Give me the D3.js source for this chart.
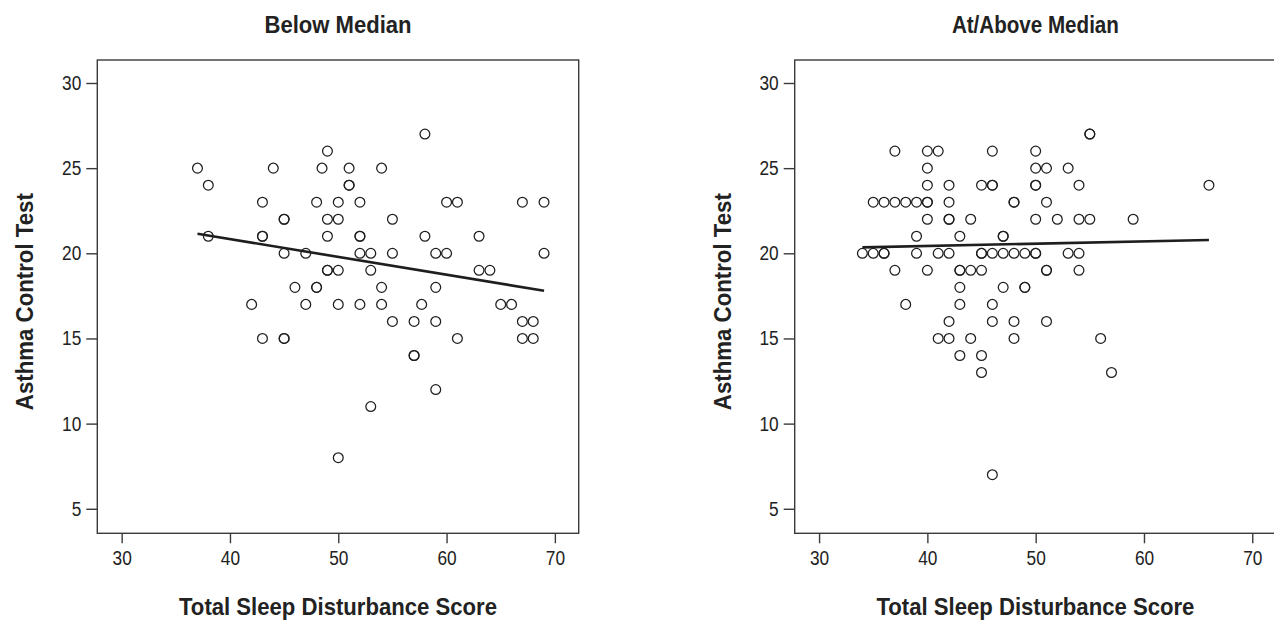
<!DOCTYPE html>
<html>
<head>
<meta charset="utf-8">
<script src="https://cdn.jsdelivr.net/npm/d3@7/dist/d3.min.js"></script>
<style>
  html, body { margin: 0; padding: 0; background: #fff; }
  svg { display: block; }
  text { font-family: "Liberation Sans Narrow", "Arial Narrow", "Liberation Sans", Arial, sans-serif; fill: #222; }
</style>
</head>
<body>
<svg id="chart" width="1274" height="621"></svg>
<script>
// ---------- data ----------
const panelTitles = ["Below Median", "At/Above Median"];
const xTitle = "Total Sleep Disturbance Score";
const yTitle = "Asthma Control Test";
const xTicks = [30, 40, 50, 60, 70];
const yTicks = [5, 10, 15, 20, 25, 30];

// Below median group
const leftScore = [
  58,
  49,
  37, 44, 48.5, 51, 54,
  38, 51, 51,
  43, 48, 50, 52, 60, 61, 67, 69,
  45, 45, 49, 50, 55,
  38, 43, 43, 49, 52, 52, 58, 63,
  45, 47, 52, 53, 55, 59, 60, 69,
  49, 49, 50, 53, 63, 64,
  46, 48, 48, 54, 59,
  42, 47, 50, 52, 54, 57.7, 65, 66,
  55, 57, 59, 67, 68,
  43, 45, 45, 61, 67, 68,
  57, 57,
  59,
  53,
  50
];
const leftACT = [
  27,
  26,
  25, 25, 25, 25, 25,
  24, 24, 24,
  23, 23, 23, 23, 23, 23, 23, 23,
  22, 22, 22, 22, 22,
  21, 21, 21, 21, 21, 21, 21, 21,
  20, 20, 20, 20, 20, 20, 20, 20,
  19, 19, 19, 19, 19, 19,
  18, 18, 18, 18, 18,
  17, 17, 17, 17, 17, 17, 17, 17,
  16, 16, 16, 16, 16,
  15, 15, 15, 15, 15, 15,
  14, 14,
  12,
  11,
  8
];
const leftFitScore = [37, 69];
const leftFitACT = [21.15, 17.8];

// At/above median group
const rightScore = [
  55, 55,
  37, 40, 41, 46, 50,
  40, 50, 51, 53,
  40, 42, 45, 46, 46, 50, 50, 54, 66,
  35, 36, 37, 38, 39, 40, 40, 42, 48, 48, 51,
  40, 42, 42, 44, 50, 52, 54, 55, 59,
  39, 43, 47, 47,
  34, 35, 36, 36, 39, 41, 42, 45, 45, 46, 47, 48, 49, 50, 50, 53, 54,
  37, 40, 43, 43, 44, 45, 51, 51, 54,
  43, 47, 49, 49,
  38, 43, 46,
  42, 46, 48, 51,
  41, 42, 44, 48, 56,
  43, 45,
  45, 57,
  46
];
const rightACT = [
  27, 27,
  26, 26, 26, 26, 26,
  25, 25, 25, 25,
  24, 24, 24, 24, 24, 24, 24, 24, 24,
  23, 23, 23, 23, 23, 23, 23, 23, 23, 23, 23,
  22, 22, 22, 22, 22, 22, 22, 22, 22,
  21, 21, 21, 21,
  20, 20, 20, 20, 20, 20, 20, 20, 20, 20, 20, 20, 20, 20, 20, 20, 20,
  19, 19, 19, 19, 19, 19, 19, 19, 19,
  18, 18, 18, 18,
  17, 17, 17,
  16, 16, 16, 16,
  15, 15, 15, 15, 15,
  14, 14,
  13, 13,
  7
];
const rightFitScore = [34, 66];
const rightFitACT = [20.35, 20.78];

// ---------- drawing ----------
const svg = d3.select("#chart");
const xDomain = [27.75, 72.2];
const yDomain = [3.56, 31.35];
const plotTop = 60, plotBottom = 533.3;
const frameColor = "#3a3a3a";

function fitText(sel, perChar) {
  sel.each(function () {
    const t = d3.select(this);
    const n = t.text().length;
    t.attr("textLength", perChar * n).attr("lengthAdjust", "spacingAndGlyphs");
  });
}

function panel(left, right, title, xs, ys, fx, fy) {
  const x = d3.scaleLinear().domain(xDomain).range([left, right]);
  const y = d3.scaleLinear().domain(yDomain).range([plotBottom, plotTop]);
  const g = svg.append("g");
  const cx = (left + right) / 2;

  // frame
  g.append("rect")
    .attr("x", left).attr("y", plotTop)
    .attr("width", right - left).attr("height", plotBottom - plotTop)
    .attr("fill", "none").attr("stroke", frameColor).attr("stroke-width", 1.4);

  // axes
  const xa = g.append("g").attr("transform", `translate(0,${plotBottom})`)
    .call(d3.axisBottom(x).tickValues(xTicks).tickSize(10).tickPadding(4).tickSizeOuter(0));
  const ya = g.append("g").attr("transform", `translate(${left},0)`)
    .call(d3.axisLeft(y).tickValues(yTicks).tickSize(11).tickPadding(5).tickSizeOuter(0));
  [xa, ya].forEach(a => {
    a.select(".domain").remove();
    a.selectAll("line").attr("stroke", frameColor).attr("stroke-width", 1.4);
    a.selectAll("text").attr("font-size", 20).attr("fill", "#222")
      .style("font-family", '"Liberation Sans Narrow","Arial Narrow","Liberation Sans",Arial,sans-serif');
  });
  xa.selectAll("text").attr("dy", "0.9em");
  fitText(xa.selectAll("text"), 9.6);
  fitText(ya.selectAll("text"), 9.6);

  // regression line
  g.append("line")
    .attr("x1", x(fx[0])).attr("y1", y(fy[0]))
    .attr("x2", x(fx[1])).attr("y2", y(fy[1]))
    .attr("stroke", "#1e1e1e").attr("stroke-width", 2.6);

  // points
  const pts = xs.map((v, i) => [v, ys[i]]);
  g.append("g").selectAll("circle").data(pts).join("circle")
    .attr("cx", d => x(d[0])).attr("cy", d => y(d[1]))
    .attr("r", 4.9)
    .attr("fill", "none").attr("stroke", "#1e1e1e").attr("stroke-width", 1.25);

  // titles
  g.append("text").attr("x", cx).attr("y", 33)
    .attr("text-anchor", "middle").attr("font-weight", "bold").attr("font-size", 23)
    .attr("textLength", title === "Below Median" ? 147 : 167).attr("lengthAdjust", "spacingAndGlyphs")
    .text(title);
  g.append("text").attr("x", cx).attr("y", 615)
    .attr("text-anchor", "middle").attr("font-weight", "bold").attr("font-size", 24)
    .attr("textLength", 318).attr("lengthAdjust", "spacingAndGlyphs")
    .text(xTitle);
  g.append("text")
    .attr("transform", `translate(${left - 64},${(plotTop + plotBottom) / 2 + 5}) rotate(-90)`)
    .attr("text-anchor", "middle").attr("font-weight", "bold").attr("font-size", 24)
    .attr("textLength", 217).attr("lengthAdjust", "spacingAndGlyphs")
    .text(yTitle);
}

panel(97.3, 578.7, panelTitles[0], leftScore, leftACT, leftFitScore, leftFitACT);
panel(794.7, 1276.1, panelTitles[1], rightScore, rightACT, rightFitScore, rightFitACT);
</script>
</body>
</html>
